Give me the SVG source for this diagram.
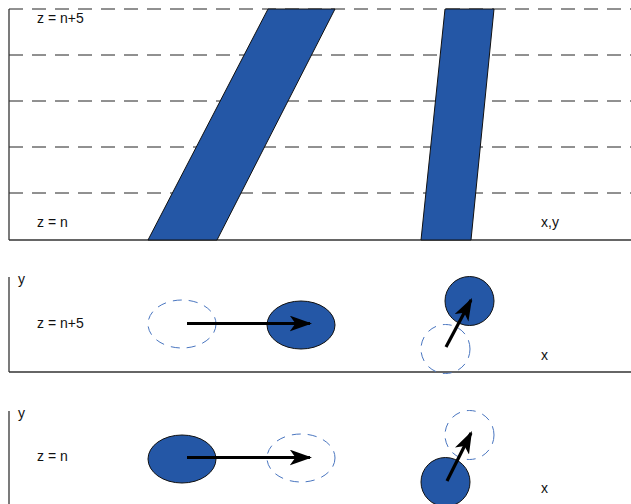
<svg xmlns="http://www.w3.org/2000/svg" width="631" height="504" viewBox="0 0 631 504">
<defs>
<style>
.t{font-family:"Liberation Sans",Arial,sans-serif;font-size:14px;fill:#111}
.grid{stroke:#222;stroke-width:1;stroke-dasharray:14,9;fill:none}
.axis{stroke:#333;stroke-width:1.3;fill:none}
.band{fill:#2457a6;stroke:#111;stroke-width:1}
.solid{fill:#2457a6;stroke:#111;stroke-width:1}
.ghost{fill:none;stroke:#4a76c0;stroke-width:1;stroke-dasharray:9,7}
.arr{stroke:#000;stroke-width:3.2;fill:none;marker-end:url(#ah)}
</style>
<marker id="ah" viewBox="0 0 10 7" refX="9" refY="3.5" markerWidth="7" markerHeight="5" orient="auto" markerUnits="strokeWidth">
<path d="M0,0 L10,3.5 L0,7 L2.5,3.5 Z" fill="#000"/>
</marker>
</defs>
<g id="top-panel">
<line class="grid" x1="9" y1="9" x2="631" y2="9"/>
<line class="grid" x1="9" y1="55" x2="631" y2="55"/>
<line class="grid" x1="9" y1="101" x2="631" y2="101"/>
<line class="grid" x1="9" y1="147" x2="631" y2="147"/>
<line class="grid" x1="9" y1="193" x2="631" y2="193"/>
<line class="axis" x1="9" y1="240" x2="631" y2="240"/>
<line class="axis" x1="9" y1="9" x2="9" y2="240"/>
<polygon class="band" points="148,240 217,240 335,9 268,9"/>
<polygon class="band" points="421,240 471,240 494,9 445,9"/>
<text class="t" x="37" y="23">z = n+5</text>
<text class="t" x="37" y="227">z = n</text>
<text class="t" x="541" y="227">x,y</text>
</g>
<g id="middle-panel">
<line class="axis" x1="9" y1="277" x2="9" y2="372"/>
<line class="axis" x1="9" y1="372" x2="631" y2="372"/>
<text class="t" x="18" y="284">y</text>
<text class="t" x="37" y="327.5">z = n+5</text>
<text class="t" x="541" y="360">x</text>
<ellipse id="mid-ghost-1" class="ghost" cx="182" cy="324" rx="34" ry="24"/>
<ellipse id="mid-solid-1" class="solid" cx="301" cy="325" rx="34" ry="24"/>
<circle id="mid-solid-2" class="solid" cx="469.5" cy="301" r="24.5"/>
<circle id="mid-ghost-2" class="ghost" cx="445.5" cy="349" r="24.5"/>
</g>
<g id="bottom-panel">
<line class="axis" x1="9" y1="411" x2="9" y2="504"/>
<text class="t" x="18" y="418">y</text>
<text class="t" x="37" y="461">z = n</text>
<text class="t" x="541" y="493">x</text>
<ellipse id="bot-solid-1" class="solid" cx="182" cy="459" rx="34" ry="24"/>
<ellipse id="bot-ghost-1" class="ghost" cx="301" cy="458" rx="34" ry="24"/>
<circle id="bot-ghost-2" class="ghost" cx="469.5" cy="435" r="24.5"/>
<circle id="bot-solid-2" class="solid" cx="445.5" cy="482" r="24.5"/>
</g>
<g id="connectors">
<line class="arr" x1="187" y1="323.5" x2="310" y2="323.5"/>
<line class="arr" x1="446" y1="347" x2="471" y2="300"/>
<line class="arr" x1="187" y1="457.5" x2="310" y2="457.5"/>
<line class="arr" x1="447" y1="481" x2="471" y2="433"/>
</g>
</svg>
